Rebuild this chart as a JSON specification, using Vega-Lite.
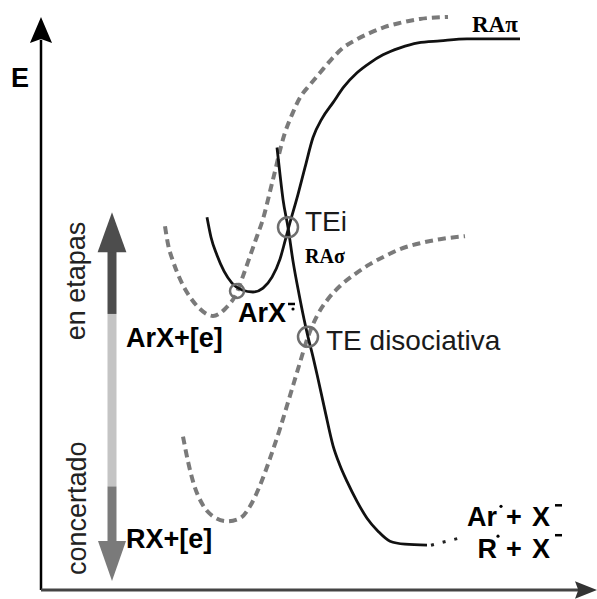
{
  "$schema": "https://vega.github.io/schema/vega-lite/v6.json",
  "width": 597,
  "height": 599,
  "autosize": {"type": "fit", "contains": "padding"},
  "padding": 0,
  "background": "white",
  "config": {"view": {"stroke": null}},
  "datasets": {
    "solidA": [
      {"x":207,"y":218},{"x":211,"y":238},{"x":217,"y":256},{"x":224,"y":272},{"x":232,"y":284},{"x":242,"y":291},{"x":253,"y":293},{"x":263,"y":289},{"x":272,"y":278},{"x":280,"y":260},{"x":285,"y":242},{"x":289,"y":227},{"x":298,"y":195},{"x":305,"y":168},{"x":313,"y":138},{"x":322,"y":119},{"x":333,"y":103},{"x":344,"y":87},{"x":357,"y":73},{"x":370,"y":63},{"x":383,"y":55},{"x":400,"y":48},{"x":418,"y":43},{"x":440,"y":41},{"x":467,"y":39},{"x":490,"y":39},{"x":520,"y":39}
    ],
    "solidB": [
      {"x":277,"y":148},{"x":280,"y":175},{"x":283,"y":200},{"x":288,"y":228},{"x":293,"y":262},{"x":299,"y":295},{"x":304,"y":320},{"x":308,"y":338},{"x":313,"y":358},{"x":318,"y":380},{"x":325,"y":412},{"x":333,"y":447},{"x":340,"y":467},{"x":347,"y":483},{"x":357,"y":503},{"x":367,"y":520},{"x":378,"y":533},{"x":390,"y":543},{"x":405,"y":546},{"x":427,"y":547}
    ],
    "dashedA": [
      {"x":165,"y":227},{"x":168,"y":245},{"x":173,"y":262},{"x":180,"y":280},{"x":188,"y":295},{"x":198,"y":308},{"x":213,"y":317},{"x":225,"y":310},{"x":237,"y":293},{"x":243,"y":277},{"x":250,"y":257},{"x":257,"y":237},{"x":262,"y":223},{"x":272,"y":184},{"x":285,"y":133},{"x":292,"y":115},{"x":300,"y":98},{"x":310,"y":85},{"x":320,"y":73},{"x":331,"y":60},{"x":343,"y":48},{"x":356,"y":40},{"x":370,"y":33},{"x":385,"y":27},{"x":400,"y":23},{"x":420,"y":19},{"x":448,"y":17}
    ],
    "dashedB": [
      {"x":183,"y":438},{"x":188,"y":463},{"x":193,"y":483},{"x":203,"y":507},{"x":213,"y":518},{"x":227,"y":523},{"x":240,"y":520},{"x":250,"y":508},{"x":260,"y":487},{"x":270,"y":460},{"x":280,"y":430},{"x":290,"y":397},{"x":299,"y":367},{"x":308,"y":338},{"x":317,"y":317},{"x":328,"y":300},{"x":340,"y":287},{"x":355,"y":275},{"x":370,"y":265},{"x":385,"y":257},{"x":400,"y":250},{"x":420,"y":244},{"x":440,"y":240},{"x":465,"y":237}
    ],
    "tail": [{"x":431,"y":547},{"x":463,"y":539}],
    "yAxis": [{"x":41,"y":592,"x2":41,"y2":40}],
    "xAxis": [{"x":41,"y":592,"x2":582,"y2":592}],
    "shaftDark": [{"x":112,"y":250,"x2":112,"y2":315}],
    "shaftLight": [{"x":112,"y":315,"x2":112,"y2":488}],
    "shaftMid": [{"x":112,"y":488,"x2":112,"y2":546}],
    "headYAxis": [{"x":41,"y":30}],
    "headXAxis": [{"x":586,"y":592}],
    "headUp": [{"x":112,"y":233}],
    "headDown": [{"x":112,"y":563}],
    "bigCircles": [{"x":288,"y":228},{"x":308,"y":338}],
    "smallCircles": [{"x":237,"y":292}],
    "minus": [{"x":288,"y":305,"x2":295},{"x":555,"y":507,"x2":562},{"x":555,"y":537,"x2":562}],
    "dots": [{"x":293,"y":310},{"x":501,"y":508},{"x":498,"y":538}],
    "eLabel": [{"x":20,"y":87,"text":"E"}],
    "normalLabels": [{"x":305,"y":232,"text":"TEi"},{"x":326,"y":351,"text":"TE disociativa"}],
    "boldLeft": [
      {"x":126,"y":348,"text":"ArX+[e]"},{"x":126,"y":550,"text":"RX+[e]"},{"x":238,"y":323,"text":"ArX"},
      {"x":506,"y":528,"text":"+"},{"x":532,"y":528,"text":"X"},{"x":506,"y":560,"text":"+"},{"x":532,"y":560,"text":"X"}
    ],
    "boldRight": [{"x":497,"y":528,"text":"Ar"},{"x":497,"y":560,"text":"R"}],
    "serifBig": [{"x":472,"y":32,"text":"RAπ"}],
    "serifSmall": [{"x":305,"y":264,"text":"RAσ"}],
    "rotated": [{"x":77,"y":282,"text":"en etapas"},{"x":78,"y":510,"text":"concertado"}]
  },
  "encoding": {
    "x": {"field":"x","type":"quantitative","scale":{"domain":[0,597],"nice":false,"zero":false},"axis":null},
    "y": {"field":"y","type":"quantitative","scale":{"domain":[0,599],"nice":false,"zero":false,"reverse":true},"axis":null}
  },
  "layer": [
    {"data":{"name":"yAxis"},"mark":{"type":"rule","color":"#000","strokeWidth":2.5},"encoding":{"x2":{"field":"x2"},"y2":{"field":"y2"}}},
    {"data":{"name":"xAxis"},"mark":{"type":"rule","color":"#444","strokeWidth":3},"encoding":{"x2":{"field":"x2"},"y2":{"field":"y2"}}},
    {"data":{"name":"headYAxis"},"mark":{"type":"point","shape":"M0,-1L-0.85,1L0,0.7L0.85,1Z","size":676,"filled":true,"color":"#000","opacity":1}},
    {"data":{"name":"headXAxis"},"mark":{"type":"point","shape":"M1,0L-1,-0.8L-0.7,0L-1,0.8Z","size":484,"filled":true,"color":"#333","opacity":1}},
    {"data":{"name":"shaftDark"},"mark":{"type":"rule","color":"#4d4d4d","strokeWidth":9,"strokeCap":"butt"},"encoding":{"x2":{"field":"x2"},"y2":{"field":"y2"}}},
    {"data":{"name":"shaftLight"},"mark":{"type":"rule","color":"#c4c4c4","strokeWidth":9,"strokeCap":"butt"},"encoding":{"x2":{"field":"x2"},"y2":{"field":"y2"}}},
    {"data":{"name":"shaftMid"},"mark":{"type":"rule","color":"#7a7a7a","strokeWidth":9,"strokeCap":"butt"},"encoding":{"x2":{"field":"x2"},"y2":{"field":"y2"}}},
    {"data":{"name":"headUp"},"mark":{"type":"point","shape":"M0,-1L-0.72,1L0.72,1Z","size":1600,"filled":true,"color":"#4d4d4d","opacity":1}},
    {"data":{"name":"headDown"},"mark":{"type":"point","shape":"M0,1L-0.7,-1L0.7,-1Z","size":1600,"filled":true,"color":"#7a7a7a","opacity":1}},
    {"data":{"name":"dashedA"},"mark":{"type":"line","color":"#7a7a7a","strokeWidth":4,"strokeDash":[8,5],"interpolate":"monotone"}},
    {"data":{"name":"dashedB"},"mark":{"type":"line","color":"#7a7a7a","strokeWidth":4,"strokeDash":[8,5],"interpolate":"monotone"}},
    {"data":{"name":"solidA"},"mark":{"type":"line","color":"#111","strokeWidth":2.8,"interpolate":"monotone"}},
    {"data":{"name":"solidB"},"mark":{"type":"line","color":"#111","strokeWidth":2.8,"interpolate":"monotone"}},
    {"data":{"name":"tail"},"mark":{"type":"line","color":"#222","strokeWidth":3,"strokeDash":[3,9]}},
    {"data":{"name":"bigCircles"},"mark":{"type":"point","shape":"circle","size":400,"filled":false,"stroke":"#6e6e6e","strokeWidth":2.5,"opacity":1}},
    {"data":{"name":"smallCircles"},"mark":{"type":"point","shape":"circle","size":196,"filled":false,"stroke":"#6e6e6e","strokeWidth":2.5,"opacity":1}},
    {"data":{"name":"minus"},"mark":{"type":"rule","color":"#000","strokeWidth":2.5},"encoding":{"x2":{"field":"x2"}}},
    {"data":{"name":"dots"},"mark":{"type":"point","shape":"circle","size":10,"filled":true,"color":"#000","opacity":1}},
    {"data":{"name":"eLabel"},"mark":{"type":"text","font":"Liberation Sans","fontWeight":"bold","fontSize":27,"align":"center","baseline":"alphabetic","color":"#000"},"encoding":{"text":{"field":"text"}}},
    {"data":{"name":"normalLabels"},"mark":{"type":"text","font":"Liberation Sans","fontSize":28,"align":"left","baseline":"alphabetic","color":"#1a1a1a"},"encoding":{"text":{"field":"text"}}},
    {"data":{"name":"boldLeft"},"mark":{"type":"text","font":"Liberation Sans","fontWeight":"bold","fontSize":27,"align":"left","baseline":"alphabetic","color":"#000"},"encoding":{"text":{"field":"text"}}},
    {"data":{"name":"boldRight"},"mark":{"type":"text","font":"Liberation Sans","fontWeight":"bold","fontSize":27,"align":"right","baseline":"alphabetic","color":"#000"},"encoding":{"text":{"field":"text"}}},
    {"data":{"name":"serifBig"},"mark":{"type":"text","font":"Liberation Serif","fontWeight":"bold","fontSize":23,"align":"left","baseline":"alphabetic","color":"#000"},"encoding":{"text":{"field":"text"}}},
    {"data":{"name":"serifSmall"},"mark":{"type":"text","font":"Liberation Serif","fontWeight":"bold","fontSize":20,"align":"left","baseline":"alphabetic","color":"#000"},"encoding":{"text":{"field":"text"}}},
    {"data":{"name":"rotated"},"mark":{"type":"text","font":"Liberation Sans","fontSize":27,"angle":270,"align":"center","baseline":"middle","color":"#222"},"encoding":{"text":{"field":"text"}}}
  ]
}
